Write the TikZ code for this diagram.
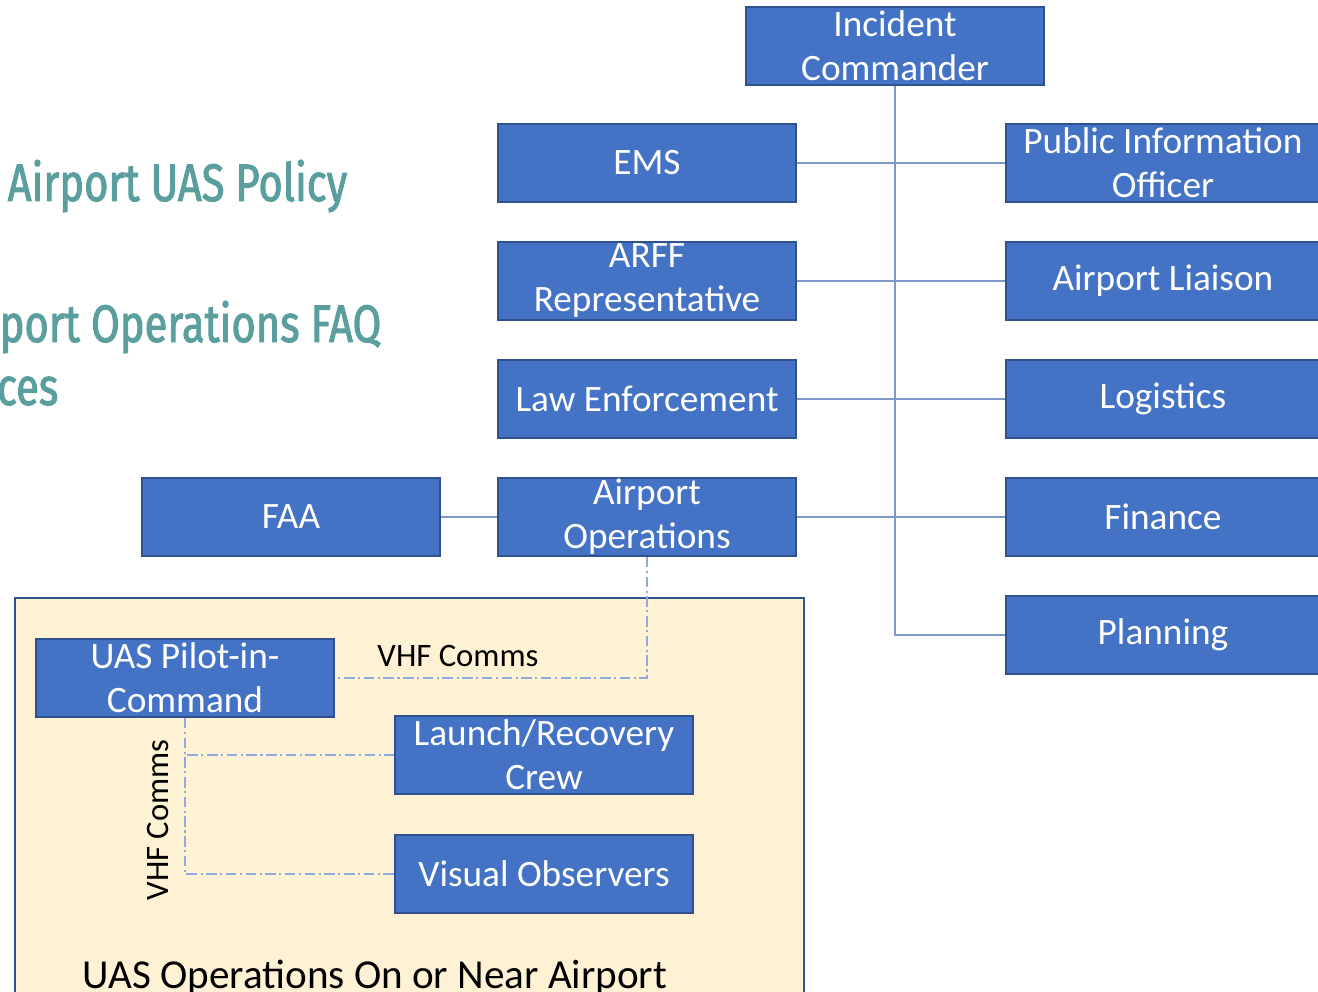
\documentclass[tikz,border=0pt]{standalone}
\usepackage{fontspec}
\setmainfont{Carlito}
\newfontfamily\titlefont[FakeStretch=0.79, FakeBold=1.8]{Fira Sans}
\usetikzlibrary{positioning}
\definecolor{boxblue}{HTML}{4472C4}
\definecolor{boxedge}{HTML}{2F528F}
\definecolor{linkblue}{HTML}{7F98CC}
\definecolor{dashblue}{HTML}{8FAADC}
\definecolor{opsyellow}{HTML}{FFF2D4}
\definecolor{titleteal}{HTML}{5B9E9E}
\tikzset{
  unit/.style={draw=boxedge, fill=boxblue, line width=0.5pt, text=white,
    minimum width=2.98cm, minimum height=0.78cm, inner sep=0pt, align=center,
    font=\fontsize{10.6}{12.5}\selectfont},
  wideunit/.style={unit, minimum width=3.14cm, anchor=west},
  link/.style={draw=linkblue, line width=0.5pt},
  radio/.style={draw=dashblue, line width=0.5pt, dash pattern=on 3pt off 1pt on 0.6pt off 1pt},
  heading/.style={text=titleteal, inner sep=0pt, font=\titlefont\fontsize{15}{18}\selectfont},
}
\begin{document}
\begin{tikzpicture}[x=0.01cm, y=-0.01cm]
  \clip (0,0) rectangle (1318,992);
  % UAS operations area
  \draw[boxedge, fill=opsyellow, line width=0.6pt] (15,598) rectangle (804,1010);
  % headings of the slide
  \node[heading, anchor=base west] (policy) at (7,201) {Airport UAS Policy};
  \node[heading, anchor=base east] (faq) at (382,342) {port Operations FAQ};
  \node[heading, anchor=base east] (res) at (59,405) {ces};
  % command structure
  \node[unit] (ic) at (895,46) {Incident\\Commander};
  \node[unit] (ems) at (647,163) {EMS};
  \node[unit] (arff) at (647,281) {ARFF\\Representative};
  \node[unit] (law) at (647,399) {Law Enforcement};
  \node[unit] (aops) at (647,517) {Airport\\Operations};
  \node[unit] (faa) at (291,517) {FAA};
  \node[wideunit] (pio) at (1005,163) {Public Information\\Officer};
  \node[wideunit] (liaison) at (1005,281) {Airport Liaison};
  \node[wideunit] (logi) at (1005,399) {Logistics};
  \node[wideunit] (fin) at (1005,517) {Finance};
  \node[wideunit] (plan) at (1005,635) {Planning};
  % UAS crew
  \node[unit] (pic) at (185,678) {UAS Pilot-in-\\Command};
  \node[unit] (lrc) at (544,755) {Launch/Recovery\\Crew};
  \node[unit] (vo) at (544,874) {Visual Observers};
  % links
  \draw[link] (ic.south) |- (plan.west);
  \draw[link] (ems.east) -- (pio.west);
  \draw[link] (arff.east) -- (liaison.west);
  \draw[link] (law.east) -- (logi.west);
  \draw[link] (aops.east) -- (fin.west);
  \draw[link] (faa.east) -- (aops.west);
  \draw[radio] (aops.south) |- (pic.east);
  \draw[radio] (pic.south) |- (vo.west);
  \draw[radio] (pic.south) |- (lrc.west);
  \node[anchor=base, font=\fontsize{9.3}{11}\selectfont] (vhf) at (458,667) {VHF Comms};
  \node[anchor=base, rotate=90, font=\fontsize{9.3}{11}\selectfont] (vhfcrew) at (168,820) {VHF Comms};
  \node[anchor=base, font=\fontsize{11.7}{14}\selectfont] (area) at (375,989) {UAS Operations On or Near Airport};
\end{tikzpicture}
\end{document}
